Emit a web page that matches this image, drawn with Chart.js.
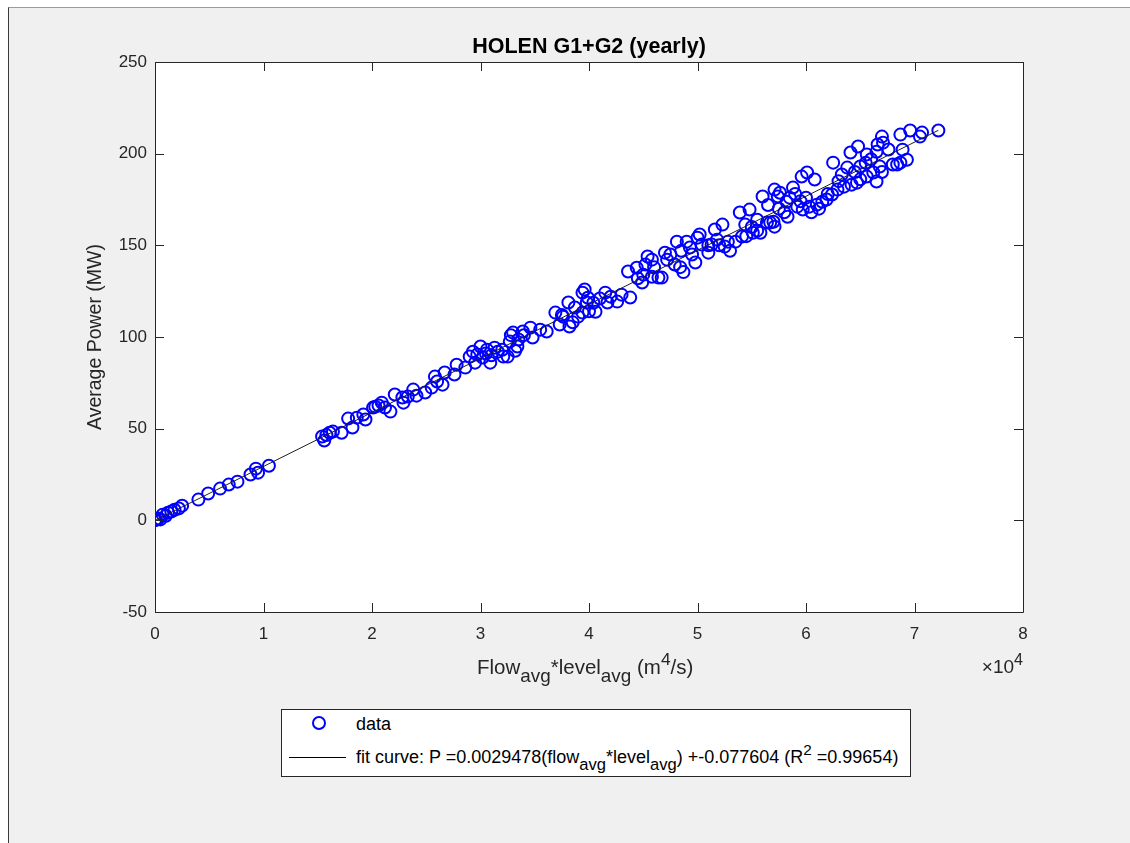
<!DOCTYPE html>
<html>
<head>
<meta charset="utf-8">
<title>HOLEN G1+G2 (yearly)</title>
<script src="https://cdn.jsdelivr.net/npm/chart.js@4/dist/chart.umd.min.js"></script>
<style>
    body {
        margin: 0;
        width: 1130px;
        height: 843px;
        background: #ffffff;
        position: relative;
        overflow: hidden;
        font-family: 'Liberation Sans', Arial, sans-serif;
    }
    #frame {
        position: absolute;
        left: 8px;
        top: 7px;
        right: 0;
        bottom: 0;
        background: #f0f0f0;
        border-left: 1px solid #3a3a3a;
        border-top: 1px solid #9a9a9a;
    }
    #canvas_holen {
        position: absolute;
        left: 0;
        top: 0;
    }
    .label {
        position: absolute;
        color: #262626;
        white-space: nowrap;
    }
    #titulo {
        left: 155px;
        width: 868px;
        top: 35px;
        line-height: 22px;
        text-align: center;
        font-size: 21.5px;
        font-weight: bold;
        color: #000000;
    }
    #xlabel {
        left: 477px;
        top: 655px;
        font-size: 20.5px;
        line-height: 24px;
    }
    #xexp {
        right: 107px;
        top: 656px;
        font-size: 19px;
        line-height: 22px;
    }
    sub {
        font-size: 92%;
        line-height: 0;
        vertical-align: -0.42em;
    }
    sup {
        font-size: 85%;
        line-height: 0;
        vertical-align: 0.5em;
    }
    #legenda {
        position: absolute;
        left: 281px;
        top: 709px;
        width: 628px;
        height: 66px;
        background: #ffffff;
        border: 1px solid #262626;
        font-size: 18px;
        color: #000000;
    }
    .item {
        position: absolute;
        left: 0;
        white-space: nowrap;
    }
    .amostra {
        position: absolute;
    }
    .texto {
        position: absolute;
        left: 74px;
        line-height: 22px;
    }
</style>
</head>
<body>
<div id="frame"></div>
<canvas id="canvas_holen" width="1130" height="843"></canvas>

<div class="label" id="titulo"></div>
<div class="label" id="xlabel">Flow<sub>avg</sub>*level<sub>avg</sub> (m<sup>4</sup>/s)</div>
<div class="label" id="xexp">&times;10<sup>4</sup></div>

<div id="legenda">
    <div class="item" style="top: 2px; height: 22px;">
        <span class="amostra" style="left: 30px; top: 4px; width: 10px; height: 10px; border: 2px solid #0000ff; border-radius: 50%;"></span>
        <span class="texto" id="leg_data" style="top: 1px;"></span>
    </div>
    <div class="item" style="top: 36px; height: 26px;">
        <span class="amostra" style="left: 7px; top: 11px; width: 57px; height: 0; border-top: 1px solid #000;"></span>
        <span class="texto" style="top: 0px;">fit curve: P =0.0029478(flow<sub>avg</sub>*level<sub>avg</sub>) +-0.077604 (R<sup>2</sup> =0.99654)</span>
    </div>
</div>

<script>
// flow_avg*level_avg, in units of 10^4 m^4/s (as on the x axis)
const flowLevel = [
    0.00, 0.01, 0.03, 0.05, 0.07, 0.10, 0.12, 0.15, 0.18, 0.22,
    0.25, 0.40, 0.49, 0.60, 0.68, 0.76, 0.88, 0.93, 0.95, 1.05,
    1.54, 1.56, 1.58, 1.61, 1.64, 1.72, 1.78, 1.82, 1.86, 1.92,
    1.94, 2.01, 2.03, 2.06, 2.09, 2.12, 2.17, 2.21, 2.28, 2.29,
    2.33, 2.38, 2.41, 2.49, 2.55, 2.58, 2.60, 2.65, 2.67, 2.76,
    2.78, 2.86, 2.90, 2.93, 2.95, 2.97, 3.00, 3.02, 3.05, 3.06,
    3.09, 3.10, 3.13, 3.16, 3.20, 3.21, 3.25, 3.27, 3.28, 3.30,
    3.32, 3.34, 3.35, 3.39, 3.40, 3.46, 3.48, 3.55, 3.61, 3.69,
    3.73, 3.75, 3.76, 3.81, 3.82, 3.85, 3.87, 3.90, 3.94, 3.94,
    3.96, 3.98, 3.99, 4.00, 4.04, 4.06, 4.10, 4.15, 4.17, 4.20,
    4.26, 4.30, 4.36, 4.38, 4.44, 4.45, 4.49, 4.50, 4.52, 4.54,
    4.58, 4.58, 4.60, 4.64, 4.67, 4.70, 4.72, 4.75, 4.79, 4.81,
    4.84, 4.85, 4.87, 4.90, 4.93, 4.95, 4.98, 5.00, 5.02, 5.04,
    5.10, 5.10, 5.13, 5.16, 5.18, 5.20, 5.23, 5.25, 5.28, 5.30,
    5.35, 5.39, 5.41, 5.44, 5.45, 5.48, 5.50, 5.51, 5.55, 5.55,
    5.58, 5.60, 5.64, 5.65, 5.67, 5.70, 5.71, 5.71, 5.74, 5.75,
    5.76, 5.80, 5.82, 5.83, 5.85, 5.88, 5.90, 5.92, 5.95, 5.96,
    5.97, 6.00, 6.01, 6.03, 6.05, 6.08, 6.10, 6.12, 6.15, 6.19,
    6.20, 6.24, 6.25, 6.29, 6.30, 6.33, 6.35, 6.38, 6.41, 6.42,
    6.45, 6.47, 6.48, 6.50, 6.50, 6.55, 6.56, 6.56, 6.60, 6.62,
    6.65, 6.65, 6.66, 6.68, 6.70, 6.70, 6.71, 6.76, 6.80, 6.84,
    6.87, 6.87, 6.89, 6.93, 6.96, 7.05, 7.07, 7.22
];

// average power (MW)
const avgPower = [
    0.0, 0.4, 1.0, 0.5, 3.1, 2.5, 4.2, 4.8, 5.8, 6.5,
    8.0, 11.3, 14.6, 17.3, 19.5, 21.1, 25.0, 28.2, 26.0, 29.8,
    45.7, 43.5, 46.5, 47.8, 48.4, 47.8, 55.5, 50.6, 56.0, 57.7,
    55.0, 61.5, 62.0, 62.6, 64.2, 61.5, 59.3, 68.6, 67.0, 64.2,
    67.5, 71.3, 68.0, 69.7, 72.4, 78.4, 75.7, 74.0, 80.6, 79.5,
    84.9, 83.3, 89.3, 92.0, 86.0, 90.4, 94.8, 88.8, 91.0, 93.1,
    86.0, 90.0, 94.2, 92.0, 93.0, 89.3, 89.3, 97.5, 101.0, 102.4,
    92.5, 94.8, 98.6, 103.0, 101.0, 105.1, 99.7, 104.0, 103.0, 113.3,
    106.8, 112.0, 111.1, 118.8, 105.7, 108.0, 116.1, 111.1, 124.2, 113.3,
    125.9, 118.8, 121.4, 114.0, 118.7, 113.8, 121.0, 124.2, 118.8, 122.0,
    119.3, 123.1, 135.7, 121.5, 137.8, 132.0, 129.7, 134.0, 139.5, 143.9,
    142.2, 132.9, 138.0, 132.4, 132.4, 146.0, 142.2, 145.0, 139.5, 152.0,
    138.1, 147.0, 135.4, 152.0, 148.8, 145.0, 140.6, 154.2, 155.9, 150.4,
    146.0, 150.0, 150.4, 158.6, 153.1, 150.0, 161.3, 149.3, 152.0, 147.0,
    152.0, 167.9, 154.8, 161.3, 155.0, 169.5, 160.0, 156.9, 164.0, 158.0,
    156.9, 176.6, 162.4, 172.0, 162.4, 162.9, 180.4, 160.2, 176.6, 170.0,
    178.7, 168.0, 173.8, 165.6, 176.0, 181.5, 178.0, 171.1, 174.0, 187.5,
    169.5, 176.0, 189.7, 171.1, 168.0, 185.9, 172.2, 170.0, 173.8, 175.0,
    178.0, 177.7, 195.1, 180.4, 185.0, 188.6, 182.0, 192.4, 200.6, 183.1,
    190.0, 184.2, 203.9, 193.0, 186.0, 195.0, 199.6, 187.5, 197.0, 189.7,
    184.8, 201.0, 205.0, 193.0, 209.3, 190.0, 206.0, 202.3, 194.1, 194.1,
    195.1, 210.4, 202.2, 196.7, 212.6, 209.3, 211.5, 212.6
];

// fit curve coefficients from the legend (P = a*(flow*level) + b, flow*level in m^4/s)
const fitSlope = 0.0029478;
const fitIntercept = -0.077604;
const fitRange = [0, 7.22]; // x-range of the fitted line, 10^4 m^4/s

const xTicks = [0, 1, 2, 3, 4, 5, 6, 7, 8];
const yTicks = [-50, 0, 50, 100, 150, 200, 250];

const tituloGrafico = 'HOLEN G1+G2 (yearly)';
const corEixo = '#262626';
const fonte = "'Liberation Sans', Arial, sans-serif";

document.getElementById('titulo').textContent = tituloGrafico;
document.getElementById('leg_data').textContent = 'data';

const pontos = [];
for (let i = 0; i < flowLevel.length; i++) {
    pontos.push({ x: flowLevel[i], y: avgPower[i] });
}

const linhaFit = fitRange.map(function (x) {
    return { x: x, y: fitSlope * x * 10000 + fitIntercept };
});

// white axes background + matlab style box with inward ticks
const caixaMatlab = {
    id: 'caixaMatlab',
    beforeDatasetsDraw(chart) {
        const a = chart.chartArea;
        const ctx = chart.ctx;
        ctx.save();
        ctx.fillStyle = '#ffffff';
        ctx.fillRect(a.left, a.top, a.right - a.left, a.bottom - a.top);
        ctx.restore();
    },
    afterDraw(chart) {
        const a = chart.chartArea;
        const ctx = chart.ctx;
        const sx = chart.scales.x;
        const sy = chart.scales.y;
        const tam = 9;
        ctx.save();
        ctx.strokeStyle = corEixo;
        ctx.lineWidth = 1;
        ctx.beginPath();
        ctx.rect(Math.round(a.left) + 0.5, Math.round(a.top) + 0.5,
            Math.round(a.right - a.left), Math.round(a.bottom - a.top));
        xTicks.forEach(function (v) {
            const px = Math.round(sx.getPixelForValue(v)) + 0.5;
            ctx.moveTo(px, a.bottom);
            ctx.lineTo(px, a.bottom - tam);
            ctx.moveTo(px, a.top);
            ctx.lineTo(px, a.top + tam);
        });
        yTicks.forEach(function (v) {
            const py = Math.round(sy.getPixelForValue(v)) + 0.5;
            ctx.moveTo(a.left, py);
            ctx.lineTo(a.left + tam, py);
            ctx.moveTo(a.right, py);
            ctx.lineTo(a.right - tam, py);
        });
        ctx.stroke();
        ctx.restore();
    }
};

new Chart(document.getElementById('canvas_holen'), {
    type: 'scatter',
    data: {
        datasets: [{
            label: 'data',
            data: pontos,
            showLine: false,
            pointStyle: 'circle',
            pointRadius: 6,
            pointBorderWidth: 2,
            pointBorderColor: '#0000ff',
            pointBackgroundColor: 'rgba(0,0,0,0)',
            order: 2,
        }, {
            type: 'line',
            label: 'fit curve',
            data: linhaFit,
            borderColor: '#202020',
            borderWidth: 1,
            pointRadius: 0,
            fill: false,
            order: 1,
        }],
    },
    options: {
        responsive: false,
        animation: false,
        layout: {
            padding: { left: 0, right: 107, top: 62, bottom: 0 },
        },
        scales: {
            x: {
                type: 'linear',
                min: 0,
                max: 8,
                afterFit: function (s) { s.height = 231; },
                afterBuildTicks: function (s) { s.ticks = xTicks.map(v => ({ value: v })); },
                ticks: {
                    color: corEixo,
                    padding: 12,
                    font: { family: fonte, size: 17 },
                    maxRotation: 0,
                },
                grid: { display: false, drawTicks: false },
                border: { display: false },
            },
            y: {
                type: 'linear',
                min: -50,
                max: 250,
                afterFit: function (s) { s.width = 155; },
                afterBuildTicks: function (s) { s.ticks = yTicks.map(v => ({ value: v })); },
                ticks: {
                    color: corEixo,
                    padding: 8,
                    font: { family: fonte, size: 17 },
                },
                grid: { display: false, drawTicks: false },
                border: { display: false },
                title: {
                    display: true,
                    text: 'Average Power (MW)',
                    color: corEixo,
                    font: { family: fonte, size: 19.5 },
                    padding: { top: 84, bottom: 0 },
                },
            },
        },
        plugins: {
            legend: { display: false },
            tooltip: { enabled: false },
            title: { display: false },
        },
    },
    plugins: [caixaMatlab],
});
</script>
</body>
</html>
